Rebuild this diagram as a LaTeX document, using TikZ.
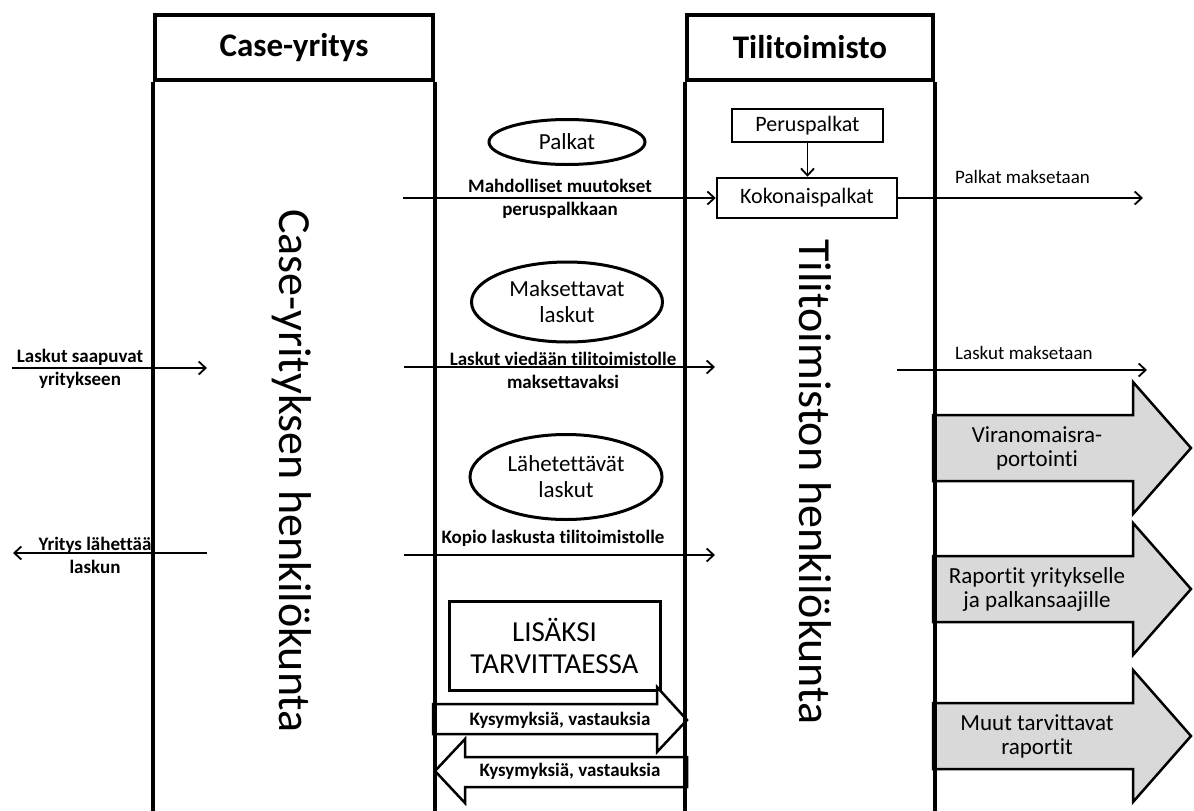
\documentclass[tikz,border=0pt]{standalone}
\usepackage{fontspec}
\setmainfont{Carlito}[Ligatures={NoCommon}]
\usetikzlibrary{arrows.meta, positioning, shapes.geometric}
\definecolor{ReportGray}{HTML}{D9D9D9}

\begin{document}
\begin{tikzpicture}[x=1pt, y=-1pt,
        lane/.style={line width=4pt},
        header/.style={draw, line width=4pt, inner sep=0pt, font=\fontsize{33}{38}\selectfont\bfseries},
        staff/.style={rotate=-90, inner sep=0pt, font=\fontsize{46}{50}\selectfont},
        doc/.style={ellipse, draw, line width=3pt, inner sep=0pt, align=center, font=\fontsize{23}{26}\selectfont},
        calc/.style={draw, line width=2.5pt, inner sep=0pt, font=\fontsize{22}{26}\selectfont},
        flow/.style={line width=1.8pt, -{Straight Barb[length=7pt, width=13pt]}},
        flowlabel/.style={align=center, inner sep=0pt, font=\fontsize{19}{23}\selectfont\bfseries},
        paylabel/.style={anchor=west, inner sep=0pt, font=\fontsize{19}{23}\selectfont},
        report/.style={draw, line width=2.5pt, fill=ReportGray, line join=miter},
        reportlabel/.style={align=center, inner sep=0pt, font=\fontsize{23}{24}\selectfont},
        talk/.style={draw, line width=2.5pt, fill=white, line join=miter}
    ]

    \useasboundingbox (0,0) rectangle (1194,811);

    % Headers
    \node[header, minimum width=278pt, minimum height=65pt] (hdrCase) at (294,47.5) {Case-yritys};
    \node[header, minimum width=246pt, minimum height=65pt] (hdrTili) at (810,47.5) {Tilitoimisto};
    \coordinate (bottom) at (0,813);

    % Staff
    \node[staff] (staffCase) at (292,471) {Case-yrityksen henkilökunta};
    \node[staff] (staffTili) at (815,482) {Tilitoimiston henkilökunta};

    % Documents
    \node[doc, minimum width=156pt, minimum height=45pt] (palkat) at (567,142) {Palkat};
    \node[doc, minimum width=191pt, minimum height=80pt] (maksettavat) at (567,302) {Maksettavat\\laskut};
    \node[doc, minimum width=192pt, minimum height=85pt] (lahetettavat) at (566,477) {Lähetettävät\\laskut};

    % Salary boxes
    \node[calc, minimum width=151pt, minimum height=33pt] (perus) at (807.5,125.5) {Peruspalkat};
    \node[calc, minimum width=180pt, minimum height=40pt] (kokonais) at (807,198) {Kokonaispalkat};
    \draw[flow] (perus.south) -- (perus.south |- kokonais.north);

    % Salaries
    \coordinate (muutosFrom) at (403,198);
    \coordinate (palkkaTo) at (1143,198);
    \draw[flow] (muutosFrom) -- (kokonais.west);
    \node[flowlabel] (muutos) at (560,198.5) {Mahdolliset muutokset\\peruspalkkaan};
    \draw[flow] (kokonais.east) -- (palkkaTo);
    \node[paylabel] (palkkaLbl) at (955,177) {Palkat maksetaan};

    % Incoming invoices
    \coordinate (saapuuFrom) at (12,368);
    \coordinate (saapuuTo) at (207,368);
    \draw[flow] (saapuuFrom) -- (saapuuTo);
    \node[flowlabel] (saapuu) at (80,369) {Laskut saapuvat\\yritykseen};
    \coordinate (viedaanFrom) at (404,367);
    \coordinate (viedaanTo) at (715,367);
    \draw[flow] (viedaanFrom) -- (viedaanTo);
    \node[flowlabel] (viedaan) at (563,370) {Laskut viedään tilitoimistolle\\maksettavaksi};
    \coordinate (maksuFrom) at (897,370);
    \coordinate (maksuTo) at (1147,370);
    \draw[flow] (maksuFrom) -- (maksuTo);
    \node[paylabel] (maksuLbl) at (955,353) {Laskut maksetaan};

    % Outgoing invoices
    \coordinate (lahettaaFrom) at (207,553);
    \coordinate (lahettaaTo) at (13,553);
    \draw[flow] (lahettaaFrom) -- (lahettaaTo);
    \node[flowlabel] (lahettaa) at (95,555) {Yritys lähettää\\laskun};
    \coordinate (kopioFrom) at (404,555);
    \coordinate (kopioTo) at (715,555);
    \draw[flow] (kopioFrom) -- (kopioTo);
    \node[flowlabel] (kopio) at (553,538) {Kopio laskusta tilitoimistolle};

    % Reports
    \foreach \yc/\txt [count=\i] in {448/{Viranomaisra-\\portointi}, 589/{Raportit yritykselle\\ja palkansaajille}, 736/{Muut tarvittavat\\raportit}} {
        \draw[report] (933,\yc-33) -- (1133,\yc-33) -- (1133,\yc-66) -- (1191,\yc) -- (1133,\yc+66) -- (1133,\yc+33) -- (933,\yc+33) -- cycle;
        \node[reportlabel] (report\i) at (1037,\yc) {\txt};
    }

    % When needed
    \node[draw, line width=3pt, minimum width=211pt, minimum height=89pt, align=center, font=\fontsize{29}{32}\selectfont] (lisaksi) at (554.5,645.5) {LISÄKSI\\TARVITTAESSA};
    \draw[talk] (433,704) -- (657,704) -- (657,687) -- (687,720) -- (657,752) -- (657,734) -- (433,734) -- cycle;
    \node[flowlabel] (talkOut) at (560,720) {Kysymyksiä, vastauksia};
    \draw[talk] (687,757) -- (465,757) -- (465,739) -- (435,771) -- (465,803) -- (465,787) -- (687,787) -- cycle;
    \node[flowlabel] (talkIn) at (570,771) {Kysymyksiä, vastauksia};

    % Lane borders
    \foreach \c in {south west, south east} {
        \draw[lane] (hdrCase.\c) -- (hdrCase.\c |- bottom);
        \draw[lane] (hdrTili.\c) -- (hdrTili.\c |- bottom);
    }

\end{tikzpicture}
\end{document}
